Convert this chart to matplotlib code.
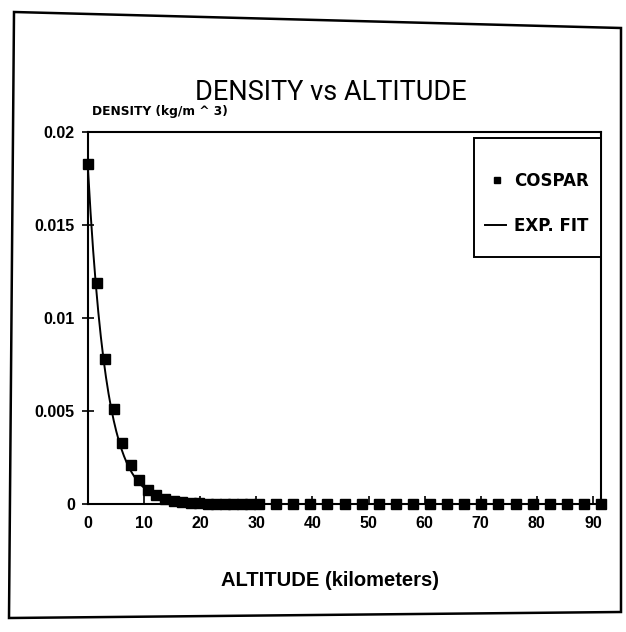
import numpy as np
import matplotlib
matplotlib.use("Agg")
import matplotlib.pyplot as plt
from matplotlib.patches import Rectangle, Polygon
from matplotlib.lines import Line2D

plt.rcParams['font.family'] = ['Liberation Sans', 'DejaVu Sans']

# COSPAR reference atmosphere samples (altitude in km, density)
altitude_km = [0.00, 1.52, 3.05, 4.57, 6.10, 7.62, 9.14, 10.67, 12.19, 13.72,
               15.24, 16.76, 18.29, 19.81, 21.34, 22.86, 24.38, 25.91, 27.43,
               28.96, 30.48, 33.53, 36.58, 39.62, 42.67, 45.72, 48.77, 51.82,
               54.86, 57.91, 60.96, 64.01, 67.06, 70.10, 73.15, 76.20, 79.25,
               82.30, 85.34, 88.39, 91.44]
density = [0.0183, 0.0119, 0.0078, 0.0051, 0.0033, 0.0021, 0.0013, 0.00075,
           0.0005, 0.00028, 0.00017, 0.0001, 0.00006, 0.00004, 0.00002,
           0.00001, 0.0, 0.0, 0.0, 0.0, 0.0, 0.0, 0.0, 0.0, 0.0, 0.0, 0.0,
           0.0, 0.0, 0.0, 0.0, 0.0, 0.0, 0.0, 0.0, 0.0, 0.0, 0.0, 0.0, 0.0, 0.0]

# exponential fit parameters: rho = A * exp(-h / H)
fit_amplitude = 0.018
fit_scale_height_km = 3.3

x_ticks = [0, 10, 20, 30, 40, 50, 60, 70, 80, 90]
y_ticks = [0, 0.005, 0.01, 0.015, 0.02]
y_tick_labels = ['0', '0.005', '0.01', '0.015', '0.02']
legend_labels = ['COSPAR', 'EXP. FIT']

W, H = 626, 632
fig = plt.figure(figsize=(W / 100, H / 100), dpi=100)

def fx(px):
    return px / W

def fy(py):
    return 1 - py / H

ax = fig.add_axes([fx(88), fy(504), fx(601) - fx(88), fy(132) - fy(504)])

h_fit = np.linspace(0, altitude_km[-1], 400)
rho_fit = fit_amplitude * np.exp(-h_fit / fit_scale_height_km)
ax.plot(h_fit, rho_fit, color='black', lw=1.4, clip_on=False, zorder=2)
ax.plot(altitude_km, density, linestyle='none', marker='s', ms=6.5,
        color='black', clip_on=False, zorder=3)

ax.set_xlim(0, altitude_km[-1])
ax.set_ylim(0, 0.02)
ax.set_xticks(x_ticks)
ax.set_xticklabels([str(t) for t in x_ticks])
ax.set_yticks(y_ticks)
ax.set_yticklabels(y_tick_labels)
for lab in ax.get_xticklabels() + ax.get_yticklabels():
    lab.set_fontweight('bold')
    lab.set_fontsize(11.5)
ax.tick_params(axis='x', direction='in', length=6, width=1.2, pad=9)
ax.tick_params(axis='y', direction='inout', length=9, width=1.2, pad=5)
for sp in ax.spines.values():
    sp.set_linewidth(1.5)

# legend box drawn in figure pixel space, hanging from the top-right corner
leg_font = dict(family=['DejaVu Sans'], fontweight='bold', fontsize=12,
                va='center', ha='left')
fig.add_artist(Rectangle((fx(474), fy(257)), fx(601) - fx(474), fy(138) - fy(257),
                         transform=fig.transFigure, fill=True, facecolor='white',
                         edgecolor='black', lw=1.4, zorder=5))
fig.add_artist(Line2D([fx(497)], [fy(180)], linestyle='none', marker='s', ms=5,
                      color='black', transform=fig.transFigure, zorder=6))
fig.add_artist(Line2D([fx(485), fx(506)], [fy(225), fy(225)], color='black',
                      lw=1.4, transform=fig.transFigure, zorder=6))
fig.text(fx(514), fy(181), legend_labels[0], zorder=6, **leg_font)
fig.text(fx(514), fy(226), legend_labels[1], zorder=6, **leg_font)

fig.text(fx(331), fy(92), 'DENSITY vs ALTITUDE', ha='center', va='center',
         fontsize=19.5, family=['Roboto', 'Liberation Sans'],
         fontweight='normal')
fig.text(fx(92), fy(111), 'DENSITY (kg/m ^ 3)', ha='left', va='center',
         fontsize=8.8, family=['DejaVu Sans'], fontweight='bold')
fig.text(fx(330), fy(580), 'ALTITUDE (kilometers)', ha='center', va='center',
         fontsize=14.5, fontweight='bold')

# outer page frame
fig.add_artist(Polygon([(fx(14), fy(12)), (fx(621), fy(28)), (fx(621), fy(612)),
                        (fx(9), fy(618))], closed=True,
                       transform=fig.transFigure, fill=False,
                       edgecolor='black', lw=1.8))

fig.savefig('out.png', dpi=100)
